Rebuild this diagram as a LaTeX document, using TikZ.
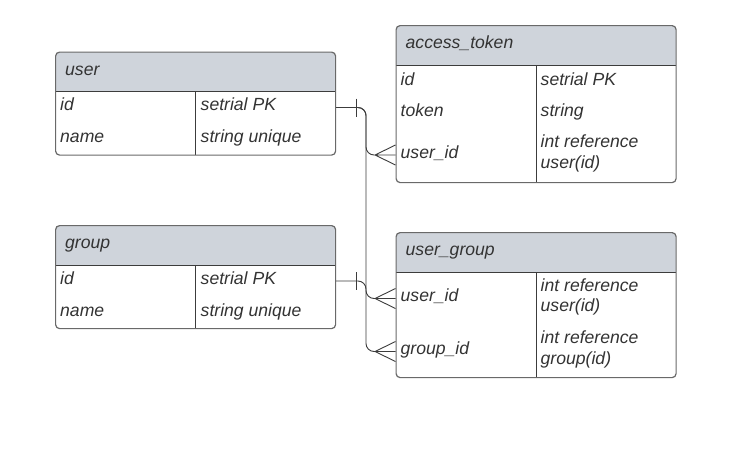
\documentclass[tikz,border=0pt]{standalone}
\usepackage{fontspec}
\setmainfont{Liberation Sans}
\usepackage{tikz}
\usepackage{xcolor}
\definecolor{headgray}{RGB}{207,212,219}
\definecolor{framegray}{RGB}{105,105,105}
\definecolor{linkgray}{RGB}{60,60,60}
\definecolor{textgray}{RGB}{51,51,51}

\begin{document}
\begin{tikzpicture}[x=1pt,y=-1pt,
    table/.style={draw=framegray, line width=1.2pt, rounded corners=4pt,
      anchor=north west, minimum width=280pt, inner sep=0pt,
      path picture={
        \fill[headgray, sharp corners] (path picture bounding box.north west)
          rectangle ([yshift=-39.5pt]path picture bounding box.north east);
        \draw[linkgray, line width=1pt] ([yshift=-39.5pt]path picture bounding box.north west)
          -- ([yshift=-39.5pt]path picture bounding box.north east);
        \draw[linkgray, line width=1pt] ([xshift=140pt,yshift=-39.5pt]path picture bounding box.north west)
          -- ([xshift=140pt]path picture bounding box.south west);
      }},
    label/.style={anchor=base west, inner sep=0pt, text=textgray,
      font=\fontsize{17.6}{20.5}\selectfont\itshape},
    field/.style={label, text height=11pt, text depth=5pt},
    cell/.style={label, align=left},
    link/.style={draw=linkgray, line width=0.9pt, rounded corners=8pt}]
    \fill[white] (0,0) rectangle (751,471);
    \useasboundingbox (0,0) rectangle (751,471);

    \node[table, minimum height=103pt] (user) at (55,51.5) {};
    \node[label] (user-title) at (65,75) {user};
    \node[field] (user-id) at (60,110.5) {id};
    \node[field] (user-idtype) at (200.5,110.5) {setrial PK};
    \node[field] (user-name) at (60,142.5) {name};
    \node[field] (user-nametype) at (200.5,142.5) {string unique};

    \node[table, minimum height=157pt] (access) at (395.5,25) {};
    \node[label] (access-title) at (405.5,48.5) {access\_token};
    \node[field] (access-id) at (400.5,85) {id};
    \node[field] (access-idtype) at (540.5,85) {setrial PK};
    \node[field] (access-token) at (400.5,116.5) {token};
    \node[field] (access-tokentype) at (540.5,116.5) {string};
    \node[field] (access-userid) at (400.5,158) {user\_id};
    \node[cell] (access-useridtype) at (540.5,168) {int reference\\user(id)};

    \node[table, minimum height=103pt] (group) at (55,225) {};
    \node[label] (group-title) at (65,248.5) {group};
    \node[field] (group-id) at (60,284) {id};
    \node[field] (group-idtype) at (200.5,284) {setrial PK};
    \node[field] (group-name) at (60,316) {name};
    \node[field] (group-nametype) at (200.5,316) {string unique};

    \node[table, minimum height=145pt] (usergroup) at (395.5,232) {};
    \node[label] (usergroup-title) at (405.5,255.5) {user\_group};
    \node[field] (usergroup-userid) at (400.5,301.5) {user\_id};
    \node[cell] (usergroup-useridtype) at (540.5,311.5) {int reference\\user(id)};
    \node[field] (usergroup-groupid) at (400.5,354.5) {group\_id};
    \node[cell] (usergroup-groupidtype) at (540.5,364) {int reference\\group(id)};

    \coordinate (bus) at (366,0);
    \foreach \t/\f in {access/access-userid, usergroup/usergroup-userid, usergroup/usergroup-groupid}{
        \coordinate (\f-foot) at ([xshift=-20.5pt]\t.west |- \f);
        \draw[link] (\f-foot) -- ([yshift=10pt]\t.west |- \f)
            (\f-foot) -- (\t.west |- \f)
            (\f-foot) -- ([yshift=-10pt]\t.west |- \f);
    }
    \foreach \e in {user-id, group-id}
        \draw[link] ([xshift=20pt,yshift=9pt]user.east |- \e) -- ([xshift=20pt,yshift=-9pt]user.east |- \e);

    \draw[link] (user.east |- user-id) -| (bus |- access-userid) -- (access-userid-foot);
    \draw[link] (user.east |- user-id) -| (bus |- usergroup-userid) -- (usergroup-userid-foot);
    \draw[link] (group.east |- group-id) -| (bus |- usergroup-groupid) -- (usergroup-groupid-foot);
\end{tikzpicture}
\end{document}
